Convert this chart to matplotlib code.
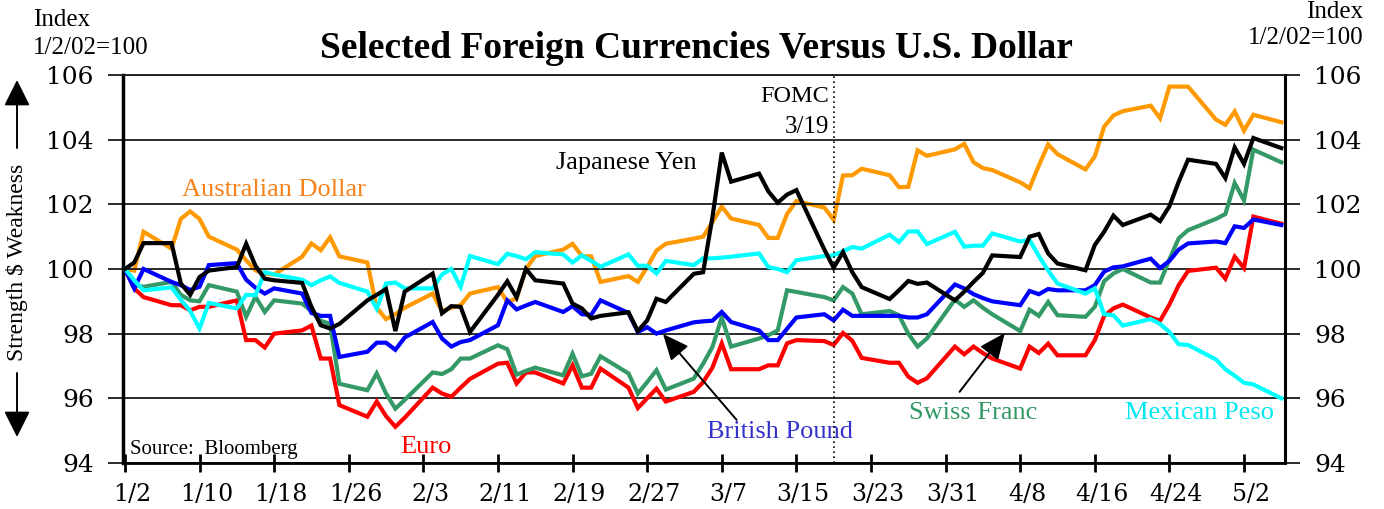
import matplotlib
matplotlib.use('Agg')
import matplotlib.pyplot as plt
import matplotlib.dates as mdates
import matplotlib.transforms as mtransforms
import pandas as pd

plt.rcParams['font.family'] = ['Liberation Serif', 'DejaVu Serif']

# --- Data (index, 1/2/02 = 100), one value per business day 1/2/02 .. 5/6/02 ---
DATES = pd.bdate_range('2002-01-02', '2002-05-06')

AUD = [100.0, 99.95, 101.15, 100.63, 101.55, 101.78, 101.55, 101.0, 100.6, 100.27, 99.96, 99.85, 99.83,
       100.38, 100.79, 100.58, 100.98, 100.39, 100.2, 98.8, 98.45, 98.6, 98.8,
       99.24, 98.7, 98.8, 98.88, 99.24, 99.44, 98.98, 99.09, 100.0, 100.4, 100.6, 100.78, 100.4, 100.39,
       99.6, 99.78, 99.6, 100.06, 100.57, 100.78,
       100.94, 101.0, 101.45, 101.93, 101.56, 101.36, 100.96, 100.96, 101.7, 102.1, 101.9, 101.52,
       102.89, 102.9, 103.1, 102.9, 102.53, 102.54, 103.67, 103.5,
       103.7, 103.87, 103.3, 103.12, 103.06, 102.68, 102.5, 103.2, 103.85, 103.55, 103.08, 103.48,
       104.4, 104.75, 104.88, 105.05, 104.66, 105.64, 105.64, 105.64, 104.62, 104.46,
       104.87, 104.28, 104.77, 104.54]

JPY = [100.0, 100.2, 100.8, 100.8, 99.55, 99.2, 99.75, 99.95, 100.06, 100.78, 100.1, 99.7, 99.65,
       99.57, 98.83, 98.26, 98.16, 98.3, 99.03, 99.2, 99.38, 98.08, 99.3,
       99.86, 98.63, 98.85, 98.83, 98.05, 99.2, 99.62, 99.12, 100.0, 99.65, 99.55, 98.93, 98.78, 98.47,
       98.55, 98.66, 98.08, 98.41, 99.08, 98.98,
       99.85, 99.9, 101.6, 103.6, 102.7, 102.95, 102.4, 102.05, 102.3, 102.44, 100.6, 100.04,
       100.52, 99.9, 99.44, 99.07, 99.34, 99.63, 99.54, 99.58,
       99.03, 99.3, 99.6, 99.88, 100.42, 100.37, 101.0, 101.08, 100.48, 100.17, 99.96, 100.74,
       101.15, 101.65, 101.36, 101.68, 101.48, 101.94, 102.7, 103.38, 103.25, 102.81,
       103.76, 103.25, 104.05, 103.74]

GBP = [100.0, 99.4, 100.0, 99.6, 99.5, 99.35, 99.45, 100.12, 100.18, 99.67, 99.42, 99.24, 99.4,
       99.24, 98.64, 98.55, 98.55, 97.28, 97.44, 97.72, 97.72, 97.5, 97.88,
       98.36, 97.85, 97.6, 97.74, 97.8, 98.26, 99.03, 98.75, 98.87, 98.98, 98.67, 98.85, 98.6, 98.58,
       99.03, 98.64, 98.05, 98.2, 98.0, 98.1,
       98.35, 98.38, 98.4, 98.67, 98.36, 98.1, 97.8, 97.8, 98.15, 98.5, 98.6, 98.41,
       98.74, 98.55, 98.55, 98.55, 98.55, 98.5, 98.5, 98.6,
       99.52, 99.4, 99.22, 99.1, 99.0, 98.88, 99.32, 99.22, 99.38, 99.34, 99.34, 99.5,
       99.92, 100.05, 100.08, 100.32, 100.03, 100.25, 100.6, 100.79, 100.85, 100.8,
       101.32, 101.27, 101.53, 101.36]

CHF = [100.0, 99.5, 99.45, 99.6, 99.2, 99.03, 99.0, 99.5, 99.3, 98.52, 99.14, 98.67, 99.03,
       98.93, 98.7, 98.4, 98.3, 96.45, 96.25, 96.77, 96.15, 95.68, 95.95,
       96.8, 96.75, 96.9, 97.23, 97.23, 97.64, 97.52, 96.73, 96.85, 96.95, 96.71, 97.38, 96.68, 96.76,
       97.3, 96.77, 96.15, 96.5, 96.87, 96.27,
       96.61, 97.07, 97.59, 98.5, 97.6, 97.85, 97.95, 98.1, 99.34, 99.29, 99.13, 99.03,
       99.44, 99.24, 98.6, 98.7, 98.57, 98.0, 97.6, 97.85,
       99.05, 98.83, 99.03, 98.8, 98.6, 98.08, 98.74, 98.55, 98.98, 98.57, 98.52, 98.83,
       99.62, 99.86, 100.0, 99.58, 99.58, 100.3, 100.95, 101.2, 101.55, 101.7,
       102.66, 102.12, 103.69, 103.3]

EUR = [100.0, 99.4, 99.13, 98.88, 98.88, 98.72, 98.83, 98.83, 99.03, 97.8, 97.8, 97.57, 98.0,
       98.1, 98.25, 97.23, 97.23, 95.79, 95.43, 95.9, 95.45, 95.12, 95.4,
       96.33, 96.15, 96.05, 96.33, 96.6, 97.07, 97.1, 96.46, 96.8, 96.8, 96.46, 97.02, 96.33, 96.33,
       96.92, 96.33, 95.7, 96.0, 96.3, 95.9,
       96.2, 96.5, 96.95, 97.7, 96.9, 96.9, 97.02, 97.02, 97.7, 97.8, 97.77, 97.65,
       98.02, 97.78, 97.25, 97.1, 97.1, 96.67, 96.48, 96.62,
       97.6, 97.36, 97.6, 97.4, 97.23, 96.92, 97.6, 97.4, 97.69, 97.33, 97.33, 97.8,
       98.55, 98.78, 98.9, 98.5, 98.4, 98.9, 99.5, 99.94, 100.04, 99.7,
       100.38, 100.03, 101.62, 101.4]

MXN = [100.0, 99.65, 99.34, 99.43, 99.05, 98.7, 98.16, 98.95, 98.78, 99.2, 99.19, 99.9, 99.83,
       99.67, 99.5, 99.65, 99.77, 99.57, 99.3, 98.77, 99.55, 99.58, 99.4,
       99.4, 99.83, 100.0, 99.45, 100.4, 100.15, 100.47, 100.4, 100.3, 100.52, 100.45, 100.2, 100.42, 100.25,
       100.07, 100.45, 100.1, 100.1, 99.86, 100.25,
       100.12, 100.33, 100.33, 100.35, 100.38, 100.48, 100.06, 100.0, 99.9, 100.27, 100.4, 100.42,
       100.55, 100.68, 100.63, 101.06, 100.83, 101.16, 101.16, 100.77,
       101.15, 100.69, 100.72, 100.72, 101.1, 100.85, 100.9, 100.4, 99.95, 99.55, 99.24, 99.4,
       98.6, 98.57, 98.25, 98.45, 98.3, 98.05, 97.67, 97.65, 97.2, 96.9,
       96.7, 96.48, 96.43, 96.0]

TICK_DATES = pd.date_range('2002-01-02', periods=16, freq='8D')
TICK_LABELS = ['1/2', '1/10', '1/18', '1/26', '2/3', '2/11', '2/19', '2/27',
               '3/7', '3/15', '3/23', '3/31', '4/8', '4/16', '4/24', '5/2']
Y_TICKS = [94, 96, 98, 100, 102, 104, 106]
FOMC_DATE = pd.Timestamp('2002-03-19')

BASE = mdates.date2num(pd.Timestamp('2002-01-02'))


def day(n):
    return BASE + n


# --- Figure ---
fig = plt.figure(figsize=(13.84, 5.09), dpi=100)
ax = fig.add_axes([0.0889, 0.0904, 0.8396, 0.7623])

series = [
    (AUD, '#ff9900', 1),
    (EUR, '#ff0000', 2),
    (CHF, '#339966', 3),
    (GBP, '#0000ff', 4),
    (MXN, '#00ffff', 5),
    (JPY, '#000000', 6),
]
for vals, col, z in series:
    ax.plot(DATES, vals, color=col, lw=3.0, zorder=z, solid_joinstyle='miter')

ax.axvline(FOMC_DATE, color='black', lw=1.2, ls=(0, (1, 2)), zorder=7)

ax.set_xlim(day(-0.2), day(124.4))
ax.set_ylim(94, 106)
ax.set_yticks(Y_TICKS)
ax.set_xticks(TICK_DATES)
ax.set_xticklabels(TICK_LABELS)

ax.grid(axis='y', color='#1a1a1a', lw=1.3, zorder=0)
ax.spines['top'].set_linewidth(1.3)
ax.spines['top'].set_color('#1a1a1a')
ax.spines['left'].set_linewidth(2.5)
ax.spines['right'].set_linewidth(2.2)
ax.spines['bottom'].set_linewidth(2.0)

ax.tick_params(axis='y', direction='out', length=11, width=1.3, color='#1a1a1a',
               left=True, right=True, labelleft=True, labelright=True,
               labelsize=18, pad=10, labelfontfamily='DejaVu Serif')
ax.tick_params(axis='x', direction='inout', length=13, width=2.0,
               labelsize=17, pad=8, labelfontfamily='DejaVu Serif')
offset = mtransforms.ScaledTranslation(5 / 72, 0, fig.dpi_scale_trans)
for lab in ax.get_xticklabels():
    lab.set_transform(lab.get_transform() + offset)

# --- Series labels ---
lab_kw = dict(fontsize=19, ha='left', va='center')
ax.text(day(6.1), 102.44, 'Australian Dollar', color='#f7821b', **lab_kw)
ax.text(day(46.2), 103.28, 'Japanese Yen', color='black', **lab_kw)
ax.text(day(29.5), 94.5, 'Euro', color='#ff0000', **lab_kw)
ax.text(day(62.4), 94.96, 'British Pound', color='#3333cc', **lab_kw)
ax.text(day(84.1), 95.55, 'Swiss Franc', color='#339966', **lab_kw)
ax.text(day(107.2), 95.55, 'Mexican Peso', color='#00e8f0', **lab_kw)
ax.text(day(0.6), 94.43, 'Source:  Bloomberg', fontsize=15, ha='left', va='center')
ax.text(day(75.5), 105.32, 'FOMC', fontsize=17.5, ha='right', va='center')
ax.text(day(75.5), 104.39, '3/19', fontsize=18, ha='right', va='center')

arrow_kw = dict(arrowstyle='-|>,head_length=0.8,head_width=0.35', color='black',
                lw=1.4, shrinkA=0, shrinkB=0, mutation_scale=20)
ax.annotate('', xy=(day(57.7), 97.99), xytext=(day(65.6), 95.33), arrowprops=arrow_kw, zorder=8)
ax.annotate('', xy=(day(94.35), 98.02), xytext=(day(89.5), 96.2), arrowprops=arrow_kw, zorder=8)

# --- Titles and side notes ---
fig.text(0.503, 0.904, 'Selected Foreign Currencies Versus U.S. Dollar',
         ha='center', va='center', fontsize=27, fontweight='bold')
fig.text(0.024, 0.961, 'Index', fontsize=18, ha='left', va='center')
fig.text(0.024, 0.906, '1/2/02=100', fontsize=18, ha='left', va='center')
fig.text(0.985, 0.976, 'Index', fontsize=18, ha='right', va='center')
fig.text(0.985, 0.925, '1/2/02=100', fontsize=18, ha='right', va='center')
fig.text(0.0123, 0.485, 'Strength $ Weakness', fontsize=17, rotation=90,
         ha='center', va='center')

side_kw = dict(arrowstyle='-|>,head_length=0.8,head_width=0.4', color='black',
               lw=1.4, shrinkA=0, shrinkB=0, mutation_scale=20)
ax.annotate('', xy=(0.0123, 1 - 80 / 509), xytext=(0.0123, 1 - 148 / 509),
            xycoords='figure fraction', arrowprops=side_kw, annotation_clip=False)
ax.annotate('', xy=(0.0123, 1 - 437 / 509), xytext=(0.0123, 1 - 373 / 509),
            xycoords='figure fraction', arrowprops=side_kw, annotation_clip=False)

fig.savefig('out.png', dpi=100, facecolor='white')
